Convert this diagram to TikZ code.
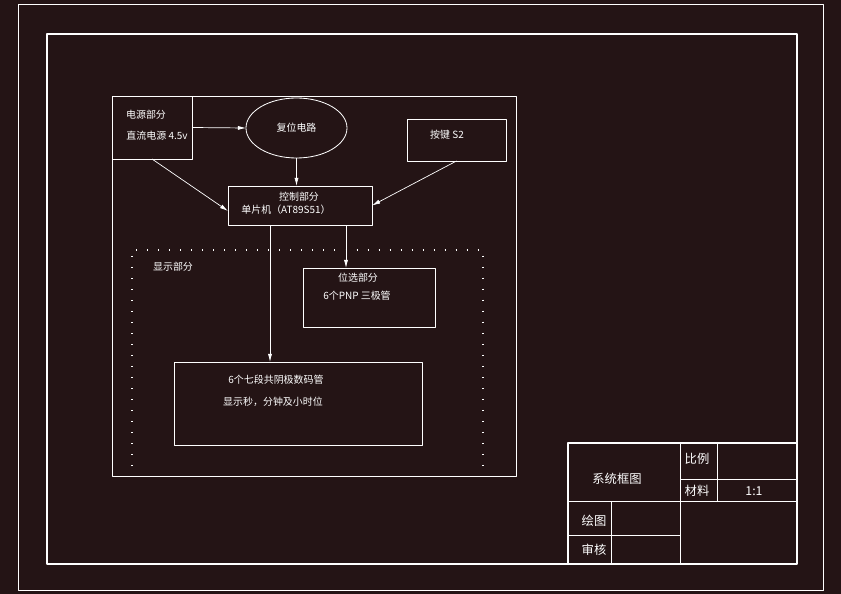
\documentclass[tikz,border=0pt]{standalone}
\usepackage{fontspec}
\setmainfont{Noto Sans CJK SC}
\usetikzlibrary{arrows.meta,shapes.geometric}

\definecolor{bgcol}{RGB}{36,20,21}

\tikzset{
  box/.style 2 args={draw=white, line width=0.7pt, inner sep=0pt, outer sep=0pt,
    minimum width=#1*0.03cm, minimum height=#2*0.03cm},
  txt/.style={text=white, inner sep=0pt, font=\fontsize{8.5}{10}\selectfont},
  tbtxt/.style={text=white, inner sep=0pt, font=\fontsize{10.5}{12}\selectfont},
  link/.style={draw=white, line width=0.6pt, -{Latex[length=7pt,width=3.5pt]}}
}

\begin{document}
\begin{tikzpicture}[x=0.03cm, y=-0.03cm, line join=round]
  % Sheet
  \fill[bgcol] (0,0) rectangle (841,594);
  \useasboundingbox (0,0) rectangle (841,594);
  \draw[white, line width=0.8pt] (18,4) rectangle (823,590);
  \draw[white, line width=2.4pt] (47,34) rectangle (797,564);

  % System boundary
  \draw[white, line width=0.7pt] (112,96) rectangle (516,476);
  \draw[white, line width=1pt, dash pattern=on 0.8pt off 8.6pt]
    (132,466) -- (132,250) -- (483,250) -- (483,466);

  % Blocks
  \node[box={80}{63}] (power) at (152,127.5) {};
  \node[draw=white, line width=0.7pt, ellipse, inner sep=0pt, outer sep=0pt,
    minimum width=101*0.03cm, minimum height=60*0.03cm, txt] (reset) at (296.5,128) {复位电路};
  \node[box={99}{42}] (key) at (456.5,140) {};
  \node[box={144}{39}] (ctrl) at (300,205.5) {};
  \node[box={132}{59}] (pos) at (369,297.5) {};
  \node[box={248}{83}] (disp) at (298,403.5) {};

  % Labels
  \node[txt] (powerA) at (146,115) {电源部分};
  \node[txt] (powerB) at (157,136) {直流电源 4.5v};
  \node[txt] (keyA) at (447,135) {按键 S2};
  \node[txt] (ctrlA) at (299,197) {控制部分};
  \node[txt] (ctrlB) at (286,210) {单片机（AT89S51）};
  \node[txt] (show) at (173,267) {显示部分};
  \node[txt] (posA) at (358,278) {位选部分};
  \node[txt] (posB) at (357,296) {6个PNP 三极管};
  \node[txt] (dispA) at (276,380) {6个七段共阴极数码管};
  \node[txt] (dispB) at (273,402) {显示秒，分钟及小时位};

  % Connections
  \coordinate (pIn) at (228,211);
  \draw[link] (power.east) -- (reset.west);
  \draw[link] (reset.south) -- (reset.south |- ctrl.north);
  \draw[link] (power.south) -- (pIn);
  \draw[link] (key.south) -- (ctrl.east);
  \draw[link] (ctrl.south -| pos.north) ++(-23,0) coordinate (cP) -- (cP |- pos.north);
  \draw[link] (ctrl.south) ++(-30,0) coordinate (cD) -- (cD |- disp.north);

  % Title block
  \draw[white, line width=1.8pt] (797,443) -- (568,443) -- (568,564);
  \draw[white, line width=0.7pt] (680,443) -- (680,564);
  \draw[white, line width=0.7pt] (717,443) -- (717,501);
  \draw[white, line width=0.7pt] (680,479) -- (797,479);
  \draw[white, line width=0.7pt] (568,501) -- (797,501);
  \draw[white, line width=0.7pt] (568,535) -- (680,535);
  \draw[white, line width=0.7pt] (611,501) -- (611,564);
  \node[tbtxt] (tbName) at (617,479) {系统框图};
  \node[tbtxt] (tbScale) at (697,459) {比例};
  \node[tbtxt] (tbMat) at (697,491) {材料};
  \node[tbtxt] (tbRatio) at (754,491) {1:1};
  \node[tbtxt] (tbDraw) at (594,521) {绘图};
  \node[tbtxt] (tbCheck) at (594,550) {审核};
\end{tikzpicture}
\end{document}
